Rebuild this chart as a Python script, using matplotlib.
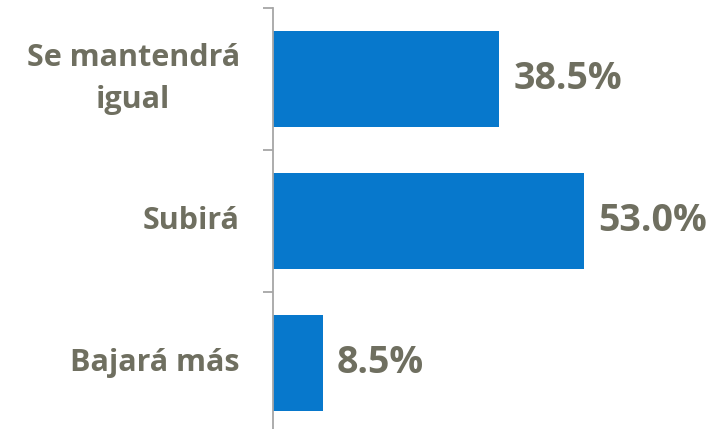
import matplotlib
matplotlib.use("Agg")
from matplotlib import pyplot as plt
import numpy as np

# categories listed top to bottom
categories = ["Se mantendrá\nigual", "Subirá", "Bajará más"]
values = [38.5, 53.0, 8.5]
value_labels = ["38.5%", "53.0%", "8.5%"]

bar_color = "#0778CC"
text_color = "#6F6F60"
axis_color = "#A6A6A6"

plt.rcParams['font.family'] = ['Open Sans', 'DejaVu Sans']

fig = plt.figure(figsize=(7.25, 4.29), dpi=100)
# axis line sits at x=273px, slots span from y=8px down past the bottom edge
ax = fig.add_axes([273 / 725, -5 / 429, 1 - 273 / 725, 426 / 429])

y = np.arange(len(categories))
ax.barh(y, values, height=0.67, color=bar_color, zorder=2)
ax.set_ylim(len(categories) - 0.5, -0.5)
ax.set_xlim(0, 77)

for yi, v, lab in zip(y, values, value_labels):
    ax.text(v + 2.4, yi, lab, va="center", ha="left", fontsize=27,
            fontweight="bold", color=text_color)

# category labels
ax.set_yticks(y)
ax.set_yticklabels(categories, fontsize=22, fontweight="bold",
                   color=text_color, multialignment="center",
                   linespacing=1.55, va="center")
ax.tick_params(axis="y", which="major", length=0, pad=24)
# small tick marks between categories
ax.set_yticks(np.arange(-0.5, len(categories)), minor=True)
ax.tick_params(axis="y", which="minor", length=7, width=1.3, color=axis_color)

ax.set_xticks([])
for side in ["top", "right", "bottom"]:
    ax.spines[side].set_visible(False)
ax.spines["left"].set_color(axis_color)
ax.spines["left"].set_linewidth(1.3)

fig.savefig("out.png", dpi=100)
